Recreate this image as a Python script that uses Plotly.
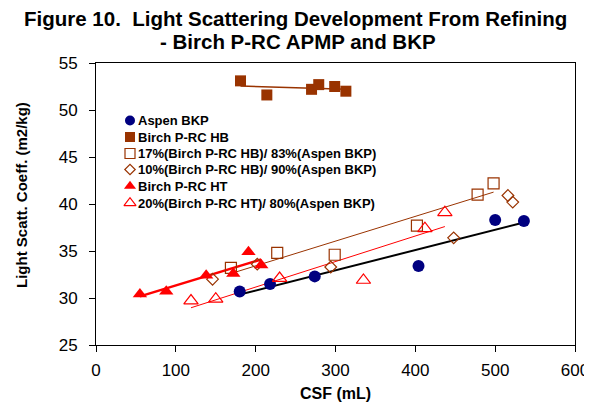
import numpy as np
import plotly.graph_objects as go

# ---------------- data ----------------
aspen_x = [180, 218, 274, 404, 500, 536]
aspen_y = [30.7, 31.5, 32.3, 33.4, 38.3, 38.2]

hb_x = [181, 214, 270, 279, 299, 313]
hb_y = [53.1, 51.6, 52.2, 52.7, 52.5, 52.0]

mix17_x = [169, 227, 299, 402, 478, 498]
mix17_y = [33.2, 34.8, 34.6, 37.7, 41.0, 42.2]

mix10_x = [146, 202, 294, 448, 516, 522]
mix10_y = [32.0, 33.6, 33.3, 36.4, 40.9, 40.2]

ht_x = [55, 88, 138, 172, 191, 207]
ht_y = [30.4, 30.7, 32.4, 32.6, 34.9, 33.5]

mix20_x = [119, 150, 230, 335, 412, 437]
mix20_y = [29.7, 29.9, 32.1, 31.9, 37.4, 39.1]

x_ticks = [0, 100, 200, 300, 400, 500, 600]
y_ticks = [25, 30, 35, 40, 45, 50, 55]

series_names = [
    "Aspen BKP",
    "Birch P-RC HB",
    "17%(Birch P-RC HB)/ 83%(Aspen BKP)",
    "10%(Birch P-RC HB)/ 90%(Aspen BKP)",
    "Birch P-RC HT",
    "20%(Birch P-RC HT)/ 80%(Aspen BKP)",
]

# ---------------- styles ----------------
BROWN = "#993300"
NAVY = "#000080"
RED = "#FF0000"
FONT = "Liberation Sans, Arial, sans-serif"

styles = [
    dict(symbol="circle", size=12, color=NAVY),
    dict(symbol="square", size=11, color=BROWN),
    dict(symbol="square-open", size=11, color=BROWN, line=dict(width=1.2, color=BROWN)),
    dict(symbol="diamond-open", size=9, color=BROWN, line=dict(width=1.2, color=BROWN)),
    dict(symbol="triangle-up", size=12.5, color=RED),
    dict(symbol="triangle-up-open", size=12.5, color=RED, line=dict(width=1.2, color=RED)),
]
legend_sizes = [10, 10, 10, 8, 10.5, 10.5]

# figure is placed inside a page body with an 8px default margin
W, H = 584, 394
ML, MR, MT, MB = 88, 17, 55, 57
PW, PH = W - ML - MR, H - MT - MB


def px_x(sx):  # screen x -> paper x
    return (sx - 8 - ML) / PW


def px_y(sy):  # screen y -> paper y
    return 1 - (sy - 8 - MT) / PH


fig = go.Figure()


def trend(xs, ys, color, width):
    m, b = np.polyfit(xs, ys, 1)
    xx = [min(xs), max(xs)]
    fig.add_trace(go.Scatter(x=xx, y=[m * v + b for v in xx], mode="lines",
                             line=dict(color=color, width=width),
                             showlegend=False, hoverinfo="skip"))


trend(hb_x, hb_y, BROWN, 1.5)
trend(mix17_x, mix17_y, BROWN, 1)
trend(aspen_x, aspen_y, "black", 2)
trend(ht_x, ht_y, RED, 2.5)
trend(mix20_x, mix20_y, RED, 1)

all_x = [aspen_x, hb_x, mix17_x, mix10_x, ht_x, mix20_x]
all_y = [aspen_y, hb_y, mix17_y, mix10_y, ht_y, mix20_y]
for xs, ys, name, st in zip(all_x, all_y, series_names, styles):
    fig.add_trace(go.Scatter(x=xs, y=ys, mode="markers", name=name,
                             marker=st, showlegend=False))

# ---------------- hand-built legend (tight row spacing like the original) ----------------
row_sy = [120.5, 137, 153.5, 169.5, 186, 203]
sym_sx, txt_sx = 130, 136
annotations = []
for i, (name, st) in enumerate(zip(series_names, styles)):
    lst = dict(st)
    lst["size"] = legend_sizes[i]
    fig.add_trace(go.Scatter(x=[px_x(sym_sx)], y=[px_y(row_sy[i])], mode="markers",
                             marker=lst, xaxis="x2", yaxis="y2",
                             showlegend=False, hoverinfo="skip"))
    annotations.append(dict(text="<b>%s</b>" % name, xref="paper", yref="paper",
                            x=px_x(txt_sx), y=px_y(row_sy[i]),
                            xanchor="left", yanchor="middle", showarrow=False,
                            font=dict(size=13, family=FONT, color="black")))

# title (two tightly spaced lines) and y-axis title
annotations.append(dict(text="<b>Figure 10.  Light Scattering Development From Refining</b>",
                        xref="paper", yref="paper", x=px_x(295), y=px_y(18),
                        xanchor="center", yanchor="middle", showarrow=False, borderpad=0,
                        font=dict(size=20.5, family=FONT, color="black")))
annotations.append(dict(text="<b>- Birch P-RC APMP and BKP</b>",
                        xref="paper", yref="paper", x=px_x(298), y=px_y(42),
                        xanchor="center", yanchor="middle", showarrow=False, borderpad=0,
                        font=dict(size=20.5, family=FONT, color="black")))
annotations.append(dict(text="<b>Light Scatt. Coeff. (m2/kg)</b>",
                        xref="paper", yref="paper", x=px_x(21), y=px_y(195),
                        xanchor="center", yanchor="middle", textangle=-90, showarrow=False,
                        font=dict(size=15, family=FONT, color="black")))

fig.update_layout(
    width=W, height=H,
    margin=dict(l=ML, r=MR, t=MT, b=MB, autoexpand=False),
    paper_bgcolor="white", plot_bgcolor="white",
    font=dict(family=FONT, size=13, color="black"),
    xaxis=dict(range=[0, 600], tickvals=x_ticks, showgrid=False, zeroline=False,
               showline=True, linecolor="black", linewidth=1, mirror=True,
               ticks="outside", ticklen=6, tickcolor="black", automargin=False,
               tickfont=dict(size=17), ticklabelstandoff=4,
               title=dict(text="<b>CSF (mL)</b>", font=dict(size=16), standoff=14)),
    yaxis=dict(range=[25, 55], tickvals=y_ticks, showgrid=False, zeroline=False,
               showline=True, linecolor="black", linewidth=1, mirror=True,
               ticks="outside", ticklen=6, tickcolor="black", automargin=False,
               tickfont=dict(size=17), ticklabelstandoff=8),
    xaxis2=dict(range=[0, 1], overlaying="x", visible=False, fixedrange=True),
    yaxis2=dict(range=[0, 1], overlaying="y", visible=False, fixedrange=True),
    annotations=annotations,
    showlegend=False,
)

fig.write_html("out.html")
